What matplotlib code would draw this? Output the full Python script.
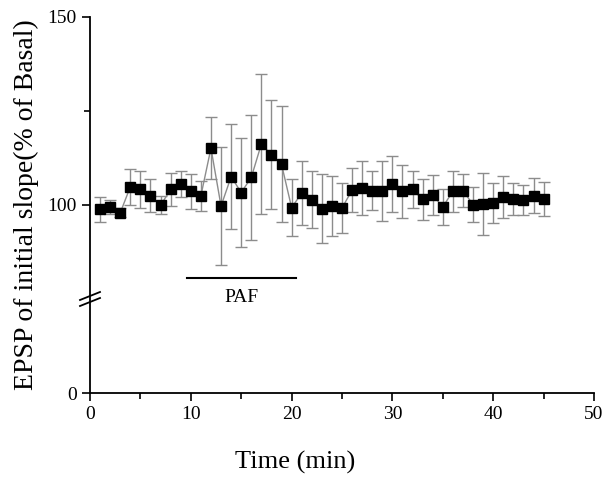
import numpy as np
import matplotlib
matplotlib.use("Agg")
import matplotlib.pyplot as plt

# ---- data ----
time_min = list(range(1, 46))
epsp = [98.8, 99.5, 97.9, 104.8, 104.1, 102.4, 99.9, 104.1, 105.6, 103.6,
        102.4, 115.1, 99.7, 107.5, 103.3, 107.3, 116.2, 113.3, 110.8, 99.3,
        103.1, 101.4, 99.0, 99.7, 99.2, 103.9, 104.6, 103.8, 103.8, 105.5,
        103.6, 104.1, 101.5, 102.6, 99.5, 103.6, 103.8, 100.1, 100.3, 100.6,
        102.2, 101.6, 101.3, 102.5, 101.6]
sem = [3.3, 1.8, 1.2, 4.8, 5.0, 4.4, 2.4, 4.5, 3.4, 4.6,
       4.0, 8.2, 15.8, 14.0, 14.5, 16.6, 18.5, 14.5, 15.4, 7.6,
       8.5, 7.5, 9.2, 8.0, 6.7, 5.9, 7.2, 5.1, 8.0, 7.4,
       7.0, 5.0, 5.5, 5.3, 4.8, 5.5, 4.4, 4.6, 8.2, 5.3,
       5.6, 4.3, 4.0, 4.7, 4.5]
paf_start, paf_end = 9.6, 20.4
paf_label = "PAF"
x_ticks = [0, 10, 20, 30, 40, 50]
y_ticks = [0, 100, 150]
break_lo, break_hi = 25, 75

plt.rcParams['font.family'] = ['Liberation Serif', 'DejaVu Serif']

EPS = 0.001
def fwd(y):
    y = np.asarray(y, dtype=float)
    return np.where(y <= break_lo, y,
                    np.where(y >= break_hi, y - (break_hi - break_lo) + EPS * (break_hi - break_lo),
                             break_lo + (y - break_lo) * EPS))
def inv(f):
    f = np.asarray(f, dtype=float)
    top = break_lo + EPS * (break_hi - break_lo)
    return np.where(f <= break_lo, f,
                    np.where(f >= top, f + (break_hi - break_lo) - EPS * (break_hi - break_lo),
                             break_lo + (f - break_lo) / EPS))

fig = plt.figure(figsize=(6.12, 4.82), dpi=100)
ax = fig.add_axes([90/612, (482-393)/482, (594-90)/612, (393-17)/482])
ax.set_yscale('function', functions=(fwd, inv))

ax.errorbar(time_min, epsp, yerr=sem, fmt='none', ecolor='#8c8c8c',
            elinewidth=1.0, capsize=4.5, capthick=1.0, zorder=2)
ax.plot(time_min, epsp, color='#8c8c8c', lw=1.0, zorder=3)
ax.plot(time_min, epsp, ls='none', marker='s', ms=6.5, color='black', zorder=4)

ax.set_xlim(0, 50)
ax.set_ylim(0, 150)
ax.set_xticks(x_ticks)
ax.set_xticks([5, 15, 25, 35, 45], minor=True)
ax.set_yticks(y_ticks)
ax.set_yticks([125], minor=True)
ax.yaxis.set_minor_formatter(plt.NullFormatter())

for s in ['top', 'right']:
    ax.spines[s].set_visible(False)
for s in ['left', 'bottom']:
    ax.spines[s].set_linewidth(1.3)
ax.tick_params(which='major', direction='out', length=6, width=1.2, labelsize=14)
ax.tick_params(which='minor', direction='out', length=4, width=1.2)

ax.set_xlabel('Time (min)', fontsize=19, labelpad=18)
ax.xaxis.set_label_coords((295 - 90) / 504, -(462 - 393) / 376)
ax.xaxis.label.set_va('center')
ax.set_ylabel('EPSP of initial slope(% of Basal)', fontsize=20, labelpad=6)

# PAF bar
ax.plot([paf_start, paf_end], [80.6, 80.6], color='black', lw=1.5, clip_on=False)
ax.text((paf_start + paf_end) / 2, 0.253, paf_label, transform=ax.get_xaxis_transform(),
        ha='center', va='center', fontsize=14)

# axis break marks
bx = 10 / 504
by = 4 / 376
yb = 0.25
for off in (-3 / 376, 3 / 376):
    ax.plot([-bx, bx], [yb + off - by, yb + off + by], transform=ax.transAxes,
            color='black', lw=1.3, clip_on=False)

fig.savefig('out.png', dpi=100)
